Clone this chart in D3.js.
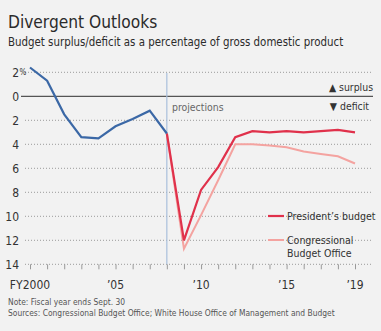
<!DOCTYPE html>
<html>
<head>
<meta charset="utf-8">
<script src="https://cdn.jsdelivr.net/npm/d3@7"></script>
<style>
  body { margin: 0; background: #f2f2f2; }
  svg { display: block; font-family: "DejaVu Sans", sans-serif; font-stretch: condensed; }
</style>
</head>
<body>
<div id="chart"></div>
<script>
// deficit as % of GDP (positive = deficit, negative = surplus)
let actualYears = [2000, 2001, 2002, 2003, 2004, 2005, 2006, 2007, 2008];
let actualValues = [-2.4, -1.3, 1.5, 3.4, 3.5, 2.5, 1.9, 1.2, 3.1];

let projYears = [2008, 2009, 2010, 2011, 2012, 2013, 2014, 2015, 2016, 2017, 2018, 2019];
let presidentValues = [3.1, 12.0, 7.8, 5.9, 3.4, 2.9, 3.0, 2.9, 3.0, 2.9, 2.8, 3.0];
let cboValues = [3.1, 12.7, 9.9, 7.0, 4.0, 4.0, 4.1, 4.25, 4.6, 4.8, 5.0, 5.6];

let yTicks = [-2, 0, 2, 4, 6, 8, 10, 12, 14];
let xLabels = [[2000, "FY2000"], [2005, "\u201905"], [2010, "\u201910"], [2015, "\u201915"], [2019, "\u201919"]];

let width = 381;
let height = 331;

let svg = d3.select("#chart").append("svg")
    .attr("width", width)
    .attr("height", height);

svg.append("rect").attr("width", width).attr("height", height).attr("fill", "#f2f2f2");

// titles
svg.append("text")
    .attr("x", 8).attr("y", 28)
    .attr("font-size", 17.2)
    .attr("fill", "#2b2b2b")
    .text("Divergent Outlooks");
svg.append("text")
    .attr("x", 8).attr("y", 46)
    .attr("font-size", 11.4)
    .attr("fill", "#2b2b2b")
    .text("Budget surplus/deficit as a percentage of gross domestic product");

let x = d3.scaleLinear().domain([2000, 2019]).range([30, 355]);
let y = d3.scaleLinear().domain([-2, 14]).range([72.3, 264.3]);

// dotted grid
svg.append("g").selectAll("line")
    .data(yTicks.filter(d => d !== 0))
    .join("line")
    .attr("x1", 25).attr("x2", 373)
    .attr("y1", d => y(d)).attr("y2", d => y(d))
    .attr("stroke", "#9a9a9a")
    .attr("stroke-width", 1)
    .attr("stroke-dasharray", "1,2");

// zero line
svg.append("line")
    .attr("x1", 21).attr("x2", 373)
    .attr("y1", y(0)).attr("y2", y(0))
    .attr("stroke", "#555")
    .attr("stroke-width", 1.2);

// y labels
let yLab = svg.append("g")
    .attr("font-size", 12)
    .attr("fill", "#333");
yLab.selectAll("text")
    .data(yTicks)
    .join("text")
    .attr("x", 19)
    .attr("y", d => y(d))
    .attr("dy", "0.35em")
    .attr("text-anchor", "end")
    .text(d => Math.abs(d));
yLab.append("text")
    .attr("x", 19.5).attr("y", y(-2))
    .attr("dy", "0.35em")
    .attr("font-size", 8)
    .text("%");

// x axis ticks, one per year
let xAxis = d3.axisBottom(x)
    .tickValues(d3.range(2000, 2020))
    .tickSize(5)
    .tickFormat("");
let gx = svg.append("g")
    .attr("transform", `translate(0, ${y(14)})`)
    .call(xAxis);
gx.select(".domain").remove();
gx.selectAll(".tick line").attr("stroke", "#999");

svg.append("g")
    .attr("font-size", 12)
    .attr("fill", "#333")
    .selectAll("text")
    .data(xLabels)
    .join("text")
    .attr("x", d => x(d[0]))
    .attr("y", 289)
    .attr("text-anchor", "middle")
    .text(d => d[1]);

// projections divider
svg.append("line")
    .attr("x1", x(2008)).attr("x2", x(2008))
    .attr("y1", 73).attr("y2", y(14))
    .attr("stroke", "#a9bfdc")
    .attr("stroke-width", 1.2);
svg.append("text")
    .attr("x", 172).attr("y", 107)
    .attr("dy", "0.35em")
    .attr("font-size", 10.4)
    .attr("fill", "#666")
    .text("projections");

svg.append("text")
    .attr("x", 373).attr("y", 87)
    .attr("dy", "0.35em")
    .attr("text-anchor", "end")
    .attr("font-size", 10.4)
    .attr("fill", "#333")
    .text("\u25B2 surplus");
svg.append("text")
    .attr("x", 369).attr("y", 106)
    .attr("dy", "0.35em")
    .attr("text-anchor", "end")
    .attr("font-size", 10.4)
    .attr("fill", "#333")
    .text("\u25BC deficit");

let line = d3.line()
    .x(d => x(d[0]))
    .y(d => y(d[1]));

svg.append("path")
    .datum(d3.zip(projYears, cboValues))
    .attr("d", line)
    .attr("fill", "none")
    .attr("stroke", "#f4a3a0")
    .attr("stroke-width", 2);

svg.append("path")
    .datum(d3.zip(projYears, presidentValues))
    .attr("d", line)
    .attr("fill", "none")
    .attr("stroke", "#e0314b")
    .attr("stroke-width", 2.2);

svg.append("path")
    .datum(d3.zip(actualYears, actualValues))
    .attr("d", line)
    .attr("fill", "none")
    .attr("stroke", "#3b68a6")
    .attr("stroke-width", 2.2);

// legend
let legend = svg.append("g").attr("font-size", 10.5).attr("fill", "#333");
legend.append("line")
    .attr("x1", 268).attr("x2", 284).attr("y1", 216).attr("y2", 216)
    .attr("stroke", "#e0314b").attr("stroke-width", 2.2);
legend.append("text")
    .attr("x", 287).attr("y", 216).attr("dy", "0.35em")
    .text("President\u2019s budget");
legend.append("line")
    .attr("x1", 268).attr("x2", 284).attr("y1", 240).attr("y2", 240)
    .attr("stroke", "#f4a3a0").attr("stroke-width", 2);
legend.append("text")
    .attr("x", 287).attr("y", 240).attr("dy", "0.35em")
    .text("Congressional");
legend.append("text")
    .attr("x", 287).attr("y", 253).attr("dy", "0.35em")
    .text("Budget Office");

// notes
let notes = svg.append("g").attr("font-size", 8.4).attr("fill", "#555");
notes.append("text").attr("x", 8).attr("y", 305).text("Note: Fiscal year ends Sept. 30");
notes.append("text").attr("x", 8).attr("y", 316).text("Sources: Congressional Budget Office; White House Office of Management and Budget");
</script>
</body>
</html>
